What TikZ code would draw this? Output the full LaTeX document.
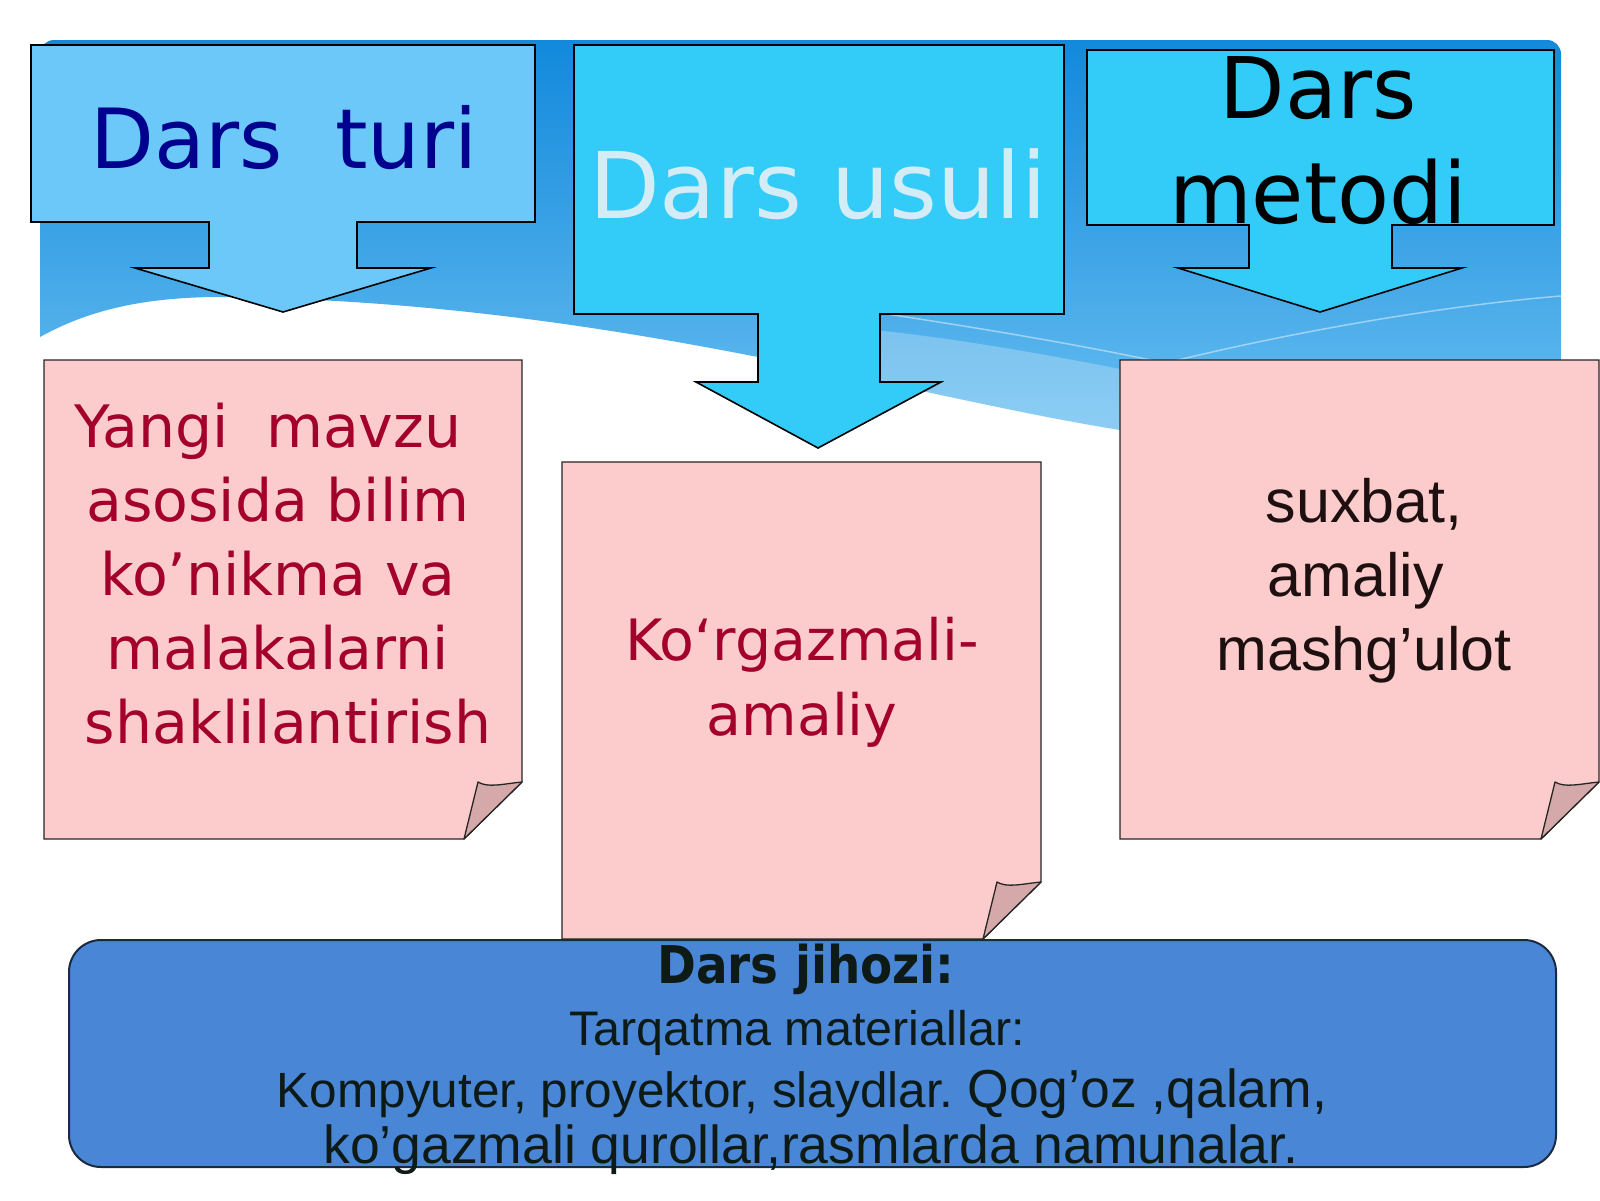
\documentclass[tikz,border=0pt]{standalone}
\usepackage{fontspec}
\setmainfont{DejaVu Sans}
\newfontfamily\arialfont{Liberation Sans}
\newfontfamily\narrowfont[FakeStretch=0.9]{DejaVu Sans}
\frenchspacing
\definecolor{bandtop}{HTML}{1289DC}
\definecolor{bandbottom}{HTML}{6EC2F2}
\definecolor{turiblue}{HTML}{6CC8F8}
\definecolor{usuliblue}{HTML}{33CBF8}
\definecolor{turitext}{HTML}{00008F}
\definecolor{usulitext}{HTML}{D3ECF6}
\definecolor{notepink}{HTML}{FCCBCB}
\definecolor{foldpink}{HTML}{D5A9A9}
\definecolor{notered}{HTML}{A3002B}
\definecolor{suxbattext}{HTML}{1E1010}
\definecolor{jihozblue}{HTML}{4A86D6}
\definecolor{jihozedge}{HTML}{1B2A40}
\definecolor{jihoztext}{HTML}{0D1A16}

\begin{document}
\begin{tikzpicture}[x=1pt, y=-1pt,
    callout/.style={draw=black, line width=1.6pt, line join=miter},
    paper/.style={fill=notepink, draw=black!85, line width=1.3pt},
    fold/.style={fill=foldpink, draw=black!85, line width=1.3pt, line join=round},
    label/.style={anchor=base, inner sep=0pt}]
  \useasboundingbox (0,0) rectangle (1600,1200);
  \fill[white] (0,0) rectangle (1600,1200);
  \shade[top color=bandtop, bottom color=bandbottom] (40,337) [rounded corners=14pt] -- (40,40) -- (1561,40) [sharp corners] -- (1561,470) -- (1120,430) .. controls (900,395) and (600,300) .. (214,297) .. controls (130,298) and (80,315) .. (40,337) -- cycle;
  \fill[white, opacity=0.25] (770,322) .. controls (900,328) and (1020,348) .. (1200,385) -- (1200,440) -- (1120,430) .. controls (1000,412) and (880,385) .. (770,358) -- cycle;
  \draw[white, opacity=0.45, line width=1.5pt] (880,313) .. controls (980,328) and (1080,345) .. (1160,362);
  \draw[white, opacity=0.45, line width=1.5pt] (1170,362) .. controls (1300,330) and (1450,305) .. (1561,296);

  \filldraw[callout, fill=turiblue] (31,45) -- (535,45) -- (535,222) -- (357,222) -- (357,268) -- (431,268) -- (283,312) -- (135,268) -- (209,268) -- (209,222) -- (31,222) -- cycle;
  \filldraw[callout, fill=usuliblue] (574,45) -- (1064,45) -- (1064,314) -- (880,314) -- (880,382) -- (941,382) -- (818,448) -- (696,382) -- (758,382) -- (758,314) -- (574,314) -- cycle;
  \filldraw[callout, fill=usuliblue] (1087,50) -- (1554,50) -- (1554,225) -- (1392,225) -- (1392,268) -- (1462,268) -- (1320,312) -- (1178,268) -- (1249,268) -- (1249,225) -- (1087,225) -- cycle;

  \foreach \xa/\ya/\xb/\yb in {44/360/522/839, 562/462/1041/939, 1120/360/1599/839} {
    \filldraw[paper] (\xa,\ya) -- (\xb,\ya) -- (\xb,\yb-57) -- (\xb-58,\yb) -- (\xa,\yb) -- cycle;
    \filldraw[fold] (\xb-58,\yb) -- (\xb-44,\yb-57) .. controls (\xb-34,\yb-51) and (\xb-20,\yb-55) .. (\xb,\yb-57) -- cycle;
  }

  \filldraw[fill=jihozblue, draw=jihozedge, line width=2pt, rounded corners=32pt] (69,940) rectangle (1556,1167);

  \node[label, text=turitext, font=\fontsize{83}{100}\selectfont] (turi) at (284,168) {Dars\ \ turi};
  \node[label, text=usulitext, font=\fontsize{92}{110}\selectfont] (usuli) at (818,218) {Dars usuli};
  \node[label, align=center, font=\fontsize{85}{105}\selectfont] (metodi) at (1318,223) {Dars\\metodi};

  \node[label, align=center, text=notered, font=\fontsize{58.5}{74}\selectfont] (mavzu) at (278,743) {Yangi~~mavzu\kern20pt\\asosida bilim\\ko’nikma va\\malakalarni\\\kern20pt shaklilantirish};
  \node[label, align=center, text=notered, font=\fontsize{57}{75}\selectfont] (korgazma) at (802,735) {Ko‘rgazmali-\\amaliy};
  \node[label, align=center, text=suxbattext, font=\arialfont\fontsize{61}{74}\selectfont] (suxbat) at (1364,670) {suxbat,\\amaliy\kern17pt\\mashg’ulot};

  \node[label, text=jihoztext, font=\narrowfont\bfseries\fontsize{52}{60}\selectfont] (jihoz) at (806,983) {Dars jihozi:};
  \node[label, text=jihoztext, font=\arialfont\fontsize{48.5}{56}\selectfont] (tarqatma) at (797,1045) {Tarqatma materiallar:};
  \node[label, text=jihoztext, font=\arialfont\fontsize{49.5}{56}\selectfont] (kompyuter) at (802,1107) {Kompyuter, proyektor, slaydlar. {\fontsize{53.5}{60}\selectfont Qog’oz ,qalam,}};
  \node[label, text=jihoztext, font=\arialfont\fontsize{53.5}{60}\selectfont] (qurollar) at (811,1163) {ko’gazmali qurollar,rasmlarda namunalar.};
\end{tikzpicture}
\end{document}
